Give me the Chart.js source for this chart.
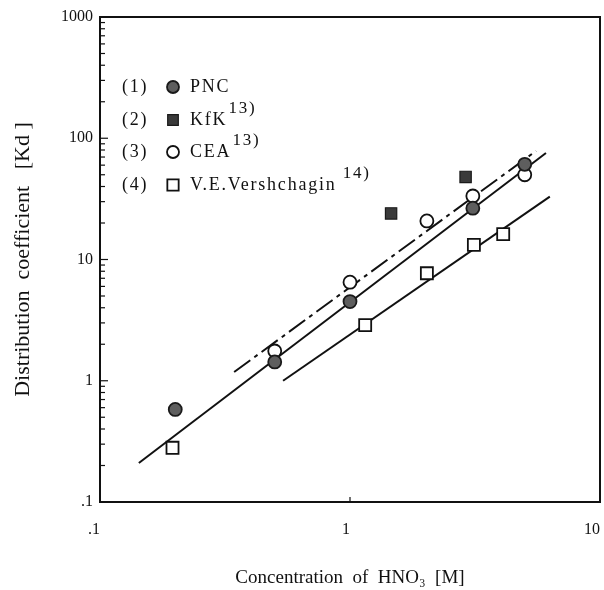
<!DOCTYPE html>
<html>
<head>
<meta charset="utf-8">
<script src="https://cdn.jsdelivr.net/npm/chart.js@4.4.0/dist/chart.umd.min.js"></script>
<style>
  html, body { margin: 0; padding: 0; background: #fff; }
  #wrap { width: 604px; height: 590px; }
</style>
</head>
<body>
<div id="wrap"><canvas id="kdChart" width="604" height="590"></canvas></div>
<script>
const pncX = [0.2, 0.5, 1.0, 3.1, 5.0];
const pncY = [0.58, 1.43, 4.5, 26.5, 61];
const kfkX = [1.46, 2.9];
const kfkY = [24, 48];
const ceaX = [0.5, 1.0, 2.03, 3.1, 5.0];
const ceaY = [1.76, 6.5, 20.8, 33.4, 50];
const verX = [0.195, 1.15, 2.03, 3.13, 4.1];
const verY = [0.28, 2.88, 7.7, 13.2, 16.2];

// fitted lines (end points)
const fitPncX = [0.143, 6.08];
const fitPncY = [0.21, 75.5];
const fitCeaX = [0.344, 5.55];
const fitCeaY = [1.18, 78.5];
const fitVerX = [0.54, 6.3];
const fitVerY = [1.0, 33];

const xTickVals = [0.1, 1, 10];
const xTickLabels = ['.1', '1', '10'];
const yTickVals = [0.1, 1, 10, 100, 1000];
const yTickLabels = ['.1', '1', '10', '100', '1000'];

const legendRows = [
    { num: '(1)', name: 'PNC', sup: '', ds: 0 },
    { num: '(2)', name: 'KfK', sup: '13)', ds: 1 },
    { num: '(3)', name: 'CEA', sup: '13)', ds: 2 },
    { num: '(4)', name: 'V.E.Vershchagin', sup: '14)', ds: 3, gap: 5 }
];

const FONT = '"Liberation Serif", "DejaVu Serif", serif';
const INK = '#111';

const toPts = (xs, ys) => xs.map((x, i) => ({ x: x, y: ys[i] }));

// top/right frame, inward ticks, legend block
const framePlugin = {
    id: 'frame',
    afterDraw(chart) {
        const ctx = chart.ctx;
        const xs = chart.scales.x, ys = chart.scales.y;
        const area = chart.chartArea;
        ctx.save();
        ctx.strokeStyle = INK;
        ctx.lineWidth = 2;
        ctx.beginPath();
        ctx.moveTo(area.left, area.top);
        ctx.lineTo(area.right, area.top);
        ctx.lineTo(area.right, area.bottom);
        ctx.stroke();

        ctx.lineWidth = 1.2;
        // y axis ticks
        for (let d = 0.1; d < 999; d *= 10) {
            for (let m = 1; m < 10; m++) {
                const py = ys.getPixelForValue(d * m);
                const len = m === 1 ? 8 : 5;
                ctx.beginPath();
                ctx.moveTo(area.left, py);
                ctx.lineTo(area.left + len, py);
                ctx.stroke();
            }
        }
        // small tick at x = 1
        const p1 = xs.getPixelForValue(1);
        ctx.beginPath();
        ctx.moveTo(p1, area.bottom);
        ctx.lineTo(p1, area.bottom - 5);
        ctx.stroke();

        // legend
        ctx.fillStyle = INK;
        ctx.textBaseline = 'middle';
        ctx.letterSpacing = '1.8px';
        const rowY = [87, 120, 152, 185];
        legendRows.forEach((r, i) => {
            const y = rowY[i];
            ctx.font = '18px ' + FONT;
            ctx.textAlign = 'left';
            ctx.fillText(r.num, 122, y);
            const ds = chart.data.datasets[r.ds];
            ctx.save();
            ctx.fillStyle = ds.pointBackgroundColor;
            ctx.strokeStyle = ds.pointBorderColor;
            ctx.lineWidth = ds.pointBorderWidth;
            Chart.helpers.drawPoint(ctx, {
                pointStyle: ds.pointStyle,
                radius: ds.pointRadius - 0.5,
                rotation: 0,
                borderWidth: ds.pointBorderWidth
            }, 173, y);
            ctx.restore();
            ctx.fillStyle = INK;
            ctx.fillText(r.name, 190, y);
            if (r.sup) {
                const w = ctx.measureText(r.name).width;
                ctx.font = '17px ' + FONT;
                ctx.fillText(r.sup, 190 + w + 1 + (r.gap || 0), y - 11);
            }
        });
        ctx.restore();
    }
};

new Chart(document.getElementById('kdChart').getContext('2d'), {
    type: 'scatter',
    data: {
        datasets: [
            {
                label: 'PNC',
                data: toPts(pncX, pncY),
                pointStyle: 'circle',
                pointRadius: 6.5,
                pointBackgroundColor: '#5e5e5e',
                pointBorderColor: '#1a1a1a',
                pointBorderWidth: 1.8
            },
            {
                label: 'KfK',
                data: toPts(kfkX, kfkY),
                pointStyle: 'rect',
                pointRadius: 8,
                pointBackgroundColor: '#3a3a3a',
                pointBorderColor: '#1a1a1a',
                pointBorderWidth: 1.2
            },
            {
                label: 'CEA',
                data: toPts(ceaX, ceaY),
                pointStyle: 'circle',
                pointRadius: 6.5,
                pointBackgroundColor: '#ffffff',
                pointBorderColor: '#111',
                pointBorderWidth: 1.8
            },
            {
                label: 'V.E.Vershchagin',
                data: toPts(verX, verY),
                pointStyle: 'rect',
                pointRadius: 8.5,
                pointBackgroundColor: '#ffffff',
                pointBorderColor: '#111',
                pointBorderWidth: 1.8
            },
            {
                label: 'fit PNC',
                data: toPts(fitPncX, fitPncY),
                showLine: true,
                pointRadius: 0,
                borderColor: INK,
                borderWidth: 2
            },
            {
                label: 'fit CEA',
                data: toPts(fitCeaX, fitCeaY),
                showLine: true,
                pointRadius: 0,
                borderColor: INK,
                borderWidth: 2,
                borderDash: [20, 5, 4, 5]
            },
            {
                label: 'fit Vershchagin',
                data: toPts(fitVerX, fitVerY),
                showLine: true,
                pointRadius: 0,
                borderColor: INK,
                borderWidth: 2
            }
        ]
    },
    options: {
        responsive: false,
        animation: false,
        layout: { autoPadding: false, padding: { top: 17, right: 4, left: 0, bottom: 0 } },
        plugins: {
            legend: { display: false },
            tooltip: { enabled: false }
        },
        scales: {
            x: {
                type: 'logarithmic',
                min: 0.1,
                max: 10,
                afterBuildTicks: s => { s.ticks = xTickVals.map(v => ({ value: v })); },
                afterFit: s => { s.height = 88; s.paddingLeft = 0; s.paddingRight = 0; },
                border: { display: true, color: INK, width: 2 },
                grid: { display: false, drawTicks: false },
                ticks: {
                    color: INK,
                    padding: 18,
                    maxRotation: 0,
                    align: 'end',
                    font: { family: FONT, size: 16 },
                    callback: (v, i) => xTickLabels[i]
                },
                title: {
                    display: true,
                    text: 'Concentration  of  HNO₃  [M]',
                    color: INK,
                    font: { family: FONT, size: 19 },
                    padding: { top: 0, bottom: 1 }
                }
            },
            y: {
                type: 'logarithmic',
                min: 0.1,
                max: 1000,
                afterBuildTicks: s => { s.ticks = yTickVals.map(v => ({ value: v })); },
                afterFit: s => { s.width = 100; },
                border: { display: true, color: INK, width: 2 },
                grid: { display: false, drawTicks: false },
                ticks: {
                    color: INK,
                    padding: 7,
                    font: { family: FONT, size: 16 },
                    callback: (v, i) => yTickLabels[i]
                },
                title: {
                    display: true,
                    text: 'Distribution  coefficient   [Kd ]',
                    color: INK,
                    font: { family: FONT, size: 22 },
                    padding: { top: 10, bottom: 0 }
                }
            }
        }
    },
    plugins: [framePlugin]
});
</script>
</body>
</html>
